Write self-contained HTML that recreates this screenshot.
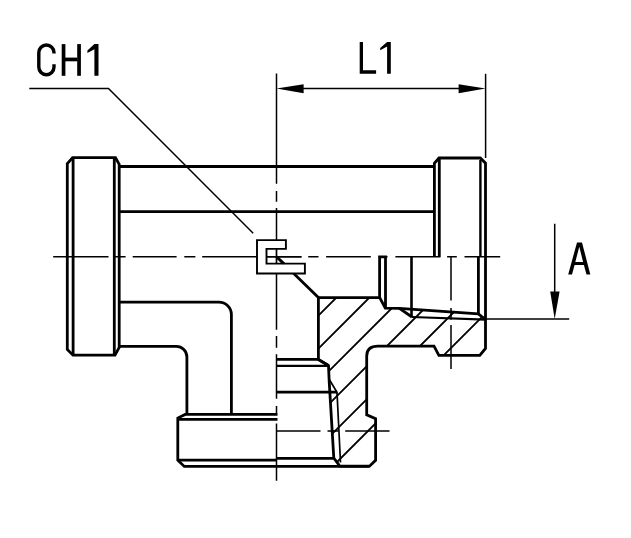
<!DOCTYPE html>
<html><head><meta charset="utf-8"><style>
html,body{margin:0;padding:0;background:#fff;width:631px;height:538px;overflow:hidden;font-family:"Liberation Sans",sans-serif;}
svg{display:block;}
</style></head><body>
<svg width="631" height="538" viewBox="0 0 631 538" xmlns="http://www.w3.org/2000/svg">
<defs>
<clipPath id="sec">
<path d="M318.6 297.6 L379.6 297.5 L385.3 308.2 L399.4 308.4 L478.3 313.9 L485.3 319.4 L485.3 348.4 L479.8 355.4 L438.9 355.4 L434 346.1 L378 346.1 Q366.7 346.1 366.7 356 L367 414.9 L375.6 418.6 L375.6 460.3 L369.5 466.2 L339.8 466.2 L333.8 458 L329.2 381.6 L328.5 365.5 L318.4 359.5 Z"/>
</clipPath>
</defs>
<rect width="631" height="538" fill="#fff"/>

<!-- thin lines -->
<g stroke="#000" stroke-width="1.5" fill="none">
  <!-- horizontal centerline -->
  <path d="M53.2 256.8H108.5M114.5 256.8H125.6M132.7 256.8H176.6M184.3 256.8H195.4M202.2 256.8H301.5M308.2 256.8H318.5M326.1 256.8H370.8M378.6 256.8H387.5M395.4 256.8H440.4M447.1 256.8H456.8M464.5 256.8H500.2"/>
  <!-- vertical centerline -->
  <path d="M276.5 73.4V183.7M276.5 191.1V201.8M276.5 208.1V329.7M276.5 336V347.8M276.5 354.2V398.8M276.5 405.9V413.5M276.5 423.5V480.8"/>
  <!-- right vertical dash line -->
  <path d="M451 256.8V300.5M451 308V319.7M451 325V369"/>
  <!-- lower horizontal dash line -->
  <path d="M276.2 430.9H320.5M327.5 430.9H338M345.2 430.9H389.5"/>
  <!-- extension right -->
  <path d="M485.6 73.8V158"/>
  <!-- dim line -->
  <path d="M290 88.4H472"/>
  <!-- leader -->
  <path d="M29.3 88.5H108.5L253.2 233.2"/>
  <!-- A dim -->
  <path d="M554.7 223.8V300M485.3 319.1H569.2"/>
  <!-- thread major lines -->
  <path d="M412 317L485.3 319.6" stroke-width="2.2"/>
  <path d="M329 379L337 392.3L340.5 462.5" stroke-width="1.7"/>
</g>
<!-- arrows -->
<g fill="#000">
  <path d="M276.5 88.4L303.6 84.2L303.6 93.3Z"/>
  <path d="M485.6 88.4L458.6 84.2L458.6 93.3Z"/>
  <path d="M554.7 318.9L550.2 291.4L559.6 291.4Z"/>
</g>

<!-- hatch -->
<g clip-path="url(#sec)" stroke="#000" stroke-width="1.9">
  <path d="M300 334L500 134M300 367L500 167M300 400L500 200M300 433L500 233M300 466L500 266M300 499L500 299"/>
</g>

<!-- thick outline -->
<g stroke="#000" stroke-width="2.8" fill="none" stroke-linejoin="miter">
  <!-- left flange -->
  <path d="M67.3 163.6L72.6 157.7H115.5L119.2 164.3V347.3L115 355.2H73L67.3 349.5Z"/>
  <path d="M73.1 157.7V355.2M114.3 157.7V355.2"/>
  <!-- top pipe -->
  <path d="M119 166.5H434.4M119 211.6H434.4"/>
  <!-- right flange -->
  <path d="M434.4 256.8V163.2L439 158H480.3L485.5 163.2V348.4L479.8 355.4H438.9L434 346.1H378Q366.7 346.1 366.7 356V414.9L375.6 418.6V460.3L369.5 466.2H339.8L333.8 458L329.2 381.6L328.5 365.5L318.4 359.5V297.6H379.6"/>
  <path d="M439.3 158V256.8M478.4 256.8V313.9"/>
  <path d="M480.4 160V256.6" stroke-width="2.4"/>
  <!-- left pipe lower -->
  <path d="M119 302.1H218.9A12.5 12.5 0 0 1 231.4 314.6V414.4"/>
  <path d="M119 346.4H176.4A10.5 10.5 0 0 1 186.9 356.9V414.4"/>
  <!-- lower flange -->
  <path d="M277.5 414.4H185.2L177.8 418.1V460.2L184.3 466.4H369.5"/>
  <path d="M177.8 419.3H277.5M177.8 460.2H276.3M276.3 458.4H333.8"/>
  <!-- section inner -->
  <path d="M276.3 359.3H318.1L328.5 365.5M276.3 392.2H337"/>
  <path d="M276.3 365.9H328.5" stroke-width="2.1"/>
  <path d="M276.6 256.8L318.6 297.7"/>
  <path d="M379.6 256.8V297.5L385.3 308.2L399.4 308.4L478.3 313.9L485.3 319.4M379.6 297.5V256.8H385.5V308.2"/>
  <path d="M399.4 308.4L412 317"/>
  <path d="M411.5 256.8V317" stroke-width="2.6"/>
</g>

<!-- symbol -->
<path d="M257 240.1H285.9V248.9H266.5V263.6H304.9V273.5H257Z" fill="#fff" stroke="#000" stroke-width="1.9"/>
<path d="M276.5 248.9V263.6M266.5 256.8H301.5" stroke="#000" stroke-width="1.3" fill="none"/>
<path d="M276.6 256.8L284 263.7" stroke="#000" stroke-width="2.3"/>

<!-- text -->
<g fill="#000">
  <!-- C -->
  <path d="M54.0 53.5V52.6A7.6 7.6 0 0 0 38.8 52.6V67.1A7.6 7.6 0 0 0 54.0 67.1V64.2" fill="none" stroke="#000" stroke-width="3.4"/>
  <!-- H -->
  <rect x="61.7" y="44.1" width="3.7" height="31.7"/>
  <rect x="77.2" y="44.1" width="3.7" height="31.7"/>
  <rect x="65" y="57.6" width="12.5" height="3.7"/>
  <!-- 1 -->
  <path d="M94.4 44.1H98.5V75.8H94.4V49.3L87.4 53V50.4Z"/>
  <!-- L -->
  <path d="M359.7 42.1H363V70.3H376.1V73.8H359.7Z"/>
  <!-- 1 -->
  <path d="M387.1 42.1H390.8V73.8H387.1V46.5L380.2 50.3V47.9Z"/>
  <!-- A -->
  <path fill-rule="evenodd" d="M568.2 274.5L577 242.4H582L590.3 274.5H586.5L583.9 264.9H574.6L572 274.5ZM575.3 261.9H583.1L579.3 246.8Z"/>
</g>
</svg>
</body></html>
